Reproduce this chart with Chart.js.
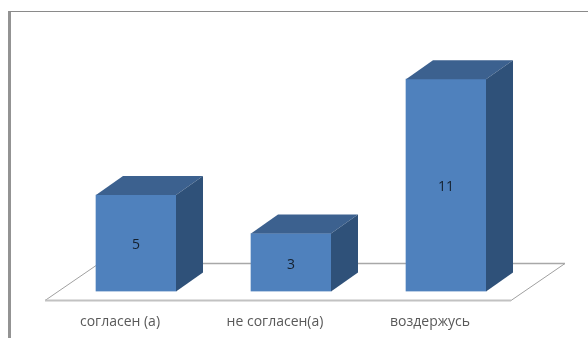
<!DOCTYPE html>
<html>
<head>
<meta charset="utf-8">
<script src="https://cdn.jsdelivr.net/npm/chart.js@4"></script>
<style>
  html, body { margin: 0; padding: 0; background: #fff; overflow: hidden; }
  #wrap { position: relative; width: 588px; height: 338px; }
  #frame { position: absolute; left: 8px; top: 11px; right: 0; bottom: 0; border-left: 3px solid #939393; border-top: 1px solid #8a8a8a; }
  canvas { position: absolute; left: 0; top: 0; }
</style>
</head>
<body>
<div id="wrap">
  <div id="frame"></div>
  <canvas id="voteChart" width="588" height="338"></canvas>
</div>
<script>
const categories = ['согласен (а)', 'не согласен(а)', 'воздержусь'];
const votes = [5, 3, 11];

const frontColor = '#4f81bd';
const topColor = '#3c618f';
const sideColor = '#2f5179';
const depthX = 27;
const depthY = 19;

// Floor slab under the columns, hung off the x axis baseline
const floorPlugin = {
  id: 'floor',
  beforeDatasetsDraw(chart) {
    const { ctx, chartArea } = chart;
    const base = chartArea.bottom;
    const frontY = base + 9;
    const backY = base - 28;
    const frontL = chartArea.left - 13.5;
    const frontR = chartArea.right - 12.5;
    ctx.save();
    ctx.lineWidth = 1;
    ctx.strokeStyle = '#a0a0a0';
    ctx.beginPath();
    ctx.moveTo(frontL, frontY);
    ctx.lineTo(frontL + 54, backY);
    ctx.moveTo(frontR + 54, backY);
    ctx.lineTo(frontR, frontY);
    ctx.stroke();
    ctx.lineWidth = 1.5;
    ctx.strokeStyle = '#a8a8a8';
    ctx.beginPath();
    ctx.moveTo(frontL + 54, backY);
    ctx.lineTo(frontR + 54, backY);
    ctx.stroke();
    ctx.lineWidth = 2;
    ctx.strokeStyle = '#c2c2c2';
    ctx.beginPath();
    ctx.moveTo(frontL, frontY);
    ctx.lineTo(frontR, frontY);
    ctx.stroke();
    ctx.restore();
  }
};

// Top and side faces of each column, taken from the bar elements
const boxPlugin = {
  id: 'box',
  afterDatasetsDraw(chart) {
    const { ctx } = chart;
    chart.getDatasetMeta(0).data.forEach((bar, i) => {
      const left = bar.x - bar.width / 2;
      const right = bar.x + bar.width / 2;
      ctx.fillStyle = topColor;
      ctx.beginPath();
      ctx.moveTo(left, bar.y);
      ctx.lineTo(left + depthX, bar.y - depthY);
      ctx.lineTo(right + depthX, bar.y - depthY);
      ctx.lineTo(right, bar.y);
      ctx.closePath();
      ctx.fill();
      ctx.fillStyle = sideColor;
      ctx.beginPath();
      ctx.moveTo(right, bar.y);
      ctx.lineTo(right + depthX, bar.y - depthY);
      ctx.lineTo(right + depthX, bar.base - depthY);
      ctx.lineTo(right, bar.base);
      ctx.closePath();
      ctx.fill();

      ctx.fillStyle = '#14202e';
      ctx.font = "14px 'Open Sans', sans-serif";
      ctx.textAlign = 'center';
      ctx.textBaseline = 'middle';
      ctx.fillText(String(votes[i]), bar.x, (bar.y + bar.base) / 2 + 2);
    });
  }
};

new Chart(document.getElementById('voteChart').getContext('2d'), {
  type: 'bar',
  data: {
    labels: categories,
    datasets: [{ data: votes, backgroundColor: frontColor, barThickness: 80 }]
  },
  plugins: [floorPlugin, boxPlugin],
  options: {
    responsive: false,
    animation: false,
    layout: { padding: { left: 58.5, right: 64.5, top: 59.9, bottom: 0 } },
    plugins: { legend: { display: false }, tooltip: { enabled: false } },
    scales: {
      y: { display: false, min: 0, max: 12 },
      x: {
        afterFit: scale => { scale.height = 46.5; },
        grid: { display: false },
        border: { display: false },
        ticks: {
          color: '#595959',
          padding: 14,
          labelOffset: -16,
          maxRotation: 0,
          font: { family: "'Open Sans', sans-serif", size: 14 }
        }
      }
    }
  }
});
</script>
</body>
</html>
